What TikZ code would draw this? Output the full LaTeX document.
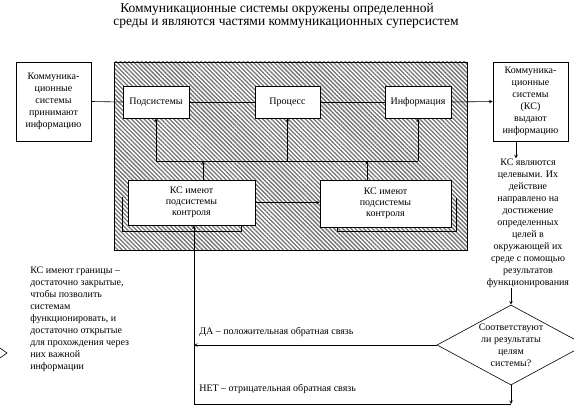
\documentclass[tikz,border=0pt]{standalone}
\usepackage{fontspec}
\setmainfont{Liberation Serif}
\usetikzlibrary{arrows, positioning, patterns.meta, shapes.geometric}
\tikzset{>=stealth}

\begin{document}
\begin{tikzpicture}[x=1pt, y=-1pt, line width=0.6pt, >=stealth,
    box/.style={draw, fill=white, align=center, inner sep=0pt, font=\fontsize{10}{12}\selectfont},
    envbox/.style={draw, pattern={Lines[angle=-45, distance=3pt, line width=1.3pt]}, pattern color=black!55, inner sep=0pt},
    note/.style={align=center, inner sep=0pt, font=\fontsize{10}{12}\selectfont},
    decision/.style={draw, diamond, inner sep=0pt, minimum width=148, minimum height=80},
    heading/.style={inner sep=0pt, font=\fontsize{13.5}{16}\selectfont}]

    \useasboundingbox (0,0) rectangle (574,412);

    \node[heading]	(T1)	at	(277,9)	{Коммуникационные системы окружены определенной};
    \node[heading]	(T2)	at	(286,24)	{среды и являются частями коммуникационных суперсистем};

    \node[envbox, minimum width=353, minimum height=188]	(Env)	at	(290.5,156)	{};

    \node[box, minimum width=75, minimum height=79]	(In)	at	(53.5,101.5)	{Коммуника-\\ционные\\системы\\принимают\\информацию};
    \node[box, minimum width=75, minimum height=79]	(Out)	at	(530.5,101.5)	{Коммуника-\\ционные\\системы\\(КС)\\выдают\\информацию};

    \node[box, minimum width=66, minimum height=32]	(Sub)	at	(156,102)	{Подсистемы};
    \node[box, minimum width=65, minimum height=32]	(Proc)	at	(287.5,102)	{Процесс};
    \node[box, minimum width=66, minimum height=32]	(Info)	at	(418,102)	{Информация};

    \node[box, minimum width=127, minimum height=45, font=\fontsize{10}{11}\selectfont]	(Ctl1)	at	(191.5,202.5)	{КС имеют\\подсистемы\\контроля};
    \node[box, minimum width=131, minimum height=47, font=\fontsize{10}{11}\selectfont]	(Ctl2)	at	(385.5,203.5)	{КС имеют\\подсистемы\\контроля};

    \node[note]	(Goal)	at	(528,223)	{КС являются\\целевыми. Их\\действие\\направлено на\\достижение\\определенных\\целей в\\окружающей их\\среде с помощью\\результатов\\функционирования};
    \node[decision, label={[note]center:{Соответствуют\\ли результаты\\целям\\системы?}}]	(Check)	at	(511,345)	{};

    \node[note, align=left, anchor=west]	(Bound)	at	(30,319.5)	{КС имеют границы –\\достаточно закрытые,\\чтобы позволить\\системам\\функционировать, и\\достаточно открытые\\для прохождения через\\них важной\\информации};
    \node[note, anchor=west]	(Yes)	at	(199,332)	{ДА – положительная обратная связь};
    \node[note, anchor=west]	(No)	at	(199,389)	{НЕТ – отрицательная обратная связь};

    \coordinate	(Bus)	at	(0,161);
    \coordinate	(Fb)	at	(194,404);

    \draw (In.east) -- (Sub.west);
    \draw (Sub) -- (Proc);
    \draw (Proc) -- (Info);
    \draw[->] (Info.east) -- (Out.west);

    \draw (Sub.south |- Bus) -- (Info.south |- Bus);
    \draw[->] (Sub.south |- Bus) -- (Sub.south);
    \draw[->] (Proc.south |- Bus) -- (Proc.south);
    \draw[->] (Info.south |- Bus) -- (Info.south);
    \draw[->] ([shift={(11.5,0)}]Ctl1.north) -- ([shift={(11.5,0)}]Ctl1.north |- Bus);
    \draw[->] ([shift={(-18.5,0)}]Ctl2.north) -- ([shift={(-18.5,0)}]Ctl2.north |- Bus);
    \draw[->] (Ctl1.east) -- (Ctl2.west |- Ctl1.east);

    \draw ([shift={(-5,-28)}]Ctl1.south west) |- ([shift={(-14,6)}]Ctl1.south east) -- ([shift={(-14,0)}]Ctl1.south east);
    \draw ([shift={(5,-29)}]Ctl2.south east) |- ([shift={(18,4)}]Ctl2.south west) -- ([shift={(18,0)}]Ctl2.south west);

    \draw[->] ([shift={(-14.5,0)}]Out.south) -- ([shift={(-14.5,0)}]Out.south |- Goal.north);
    \draw[->] (Goal.south -| Check.north) -- (Check.north);
    \draw[->] (Check.west) -- (Fb |- Check.west);
    \draw[->] (Check.south) -- (Check.south |- Fb);
    \draw[->] (Check.south |- Fb) -- (Fb) -- (Fb |- Ctl1.south);

    \draw (0,348) -- (7,353) -- (0,358);
\end{tikzpicture}
\end{document}
